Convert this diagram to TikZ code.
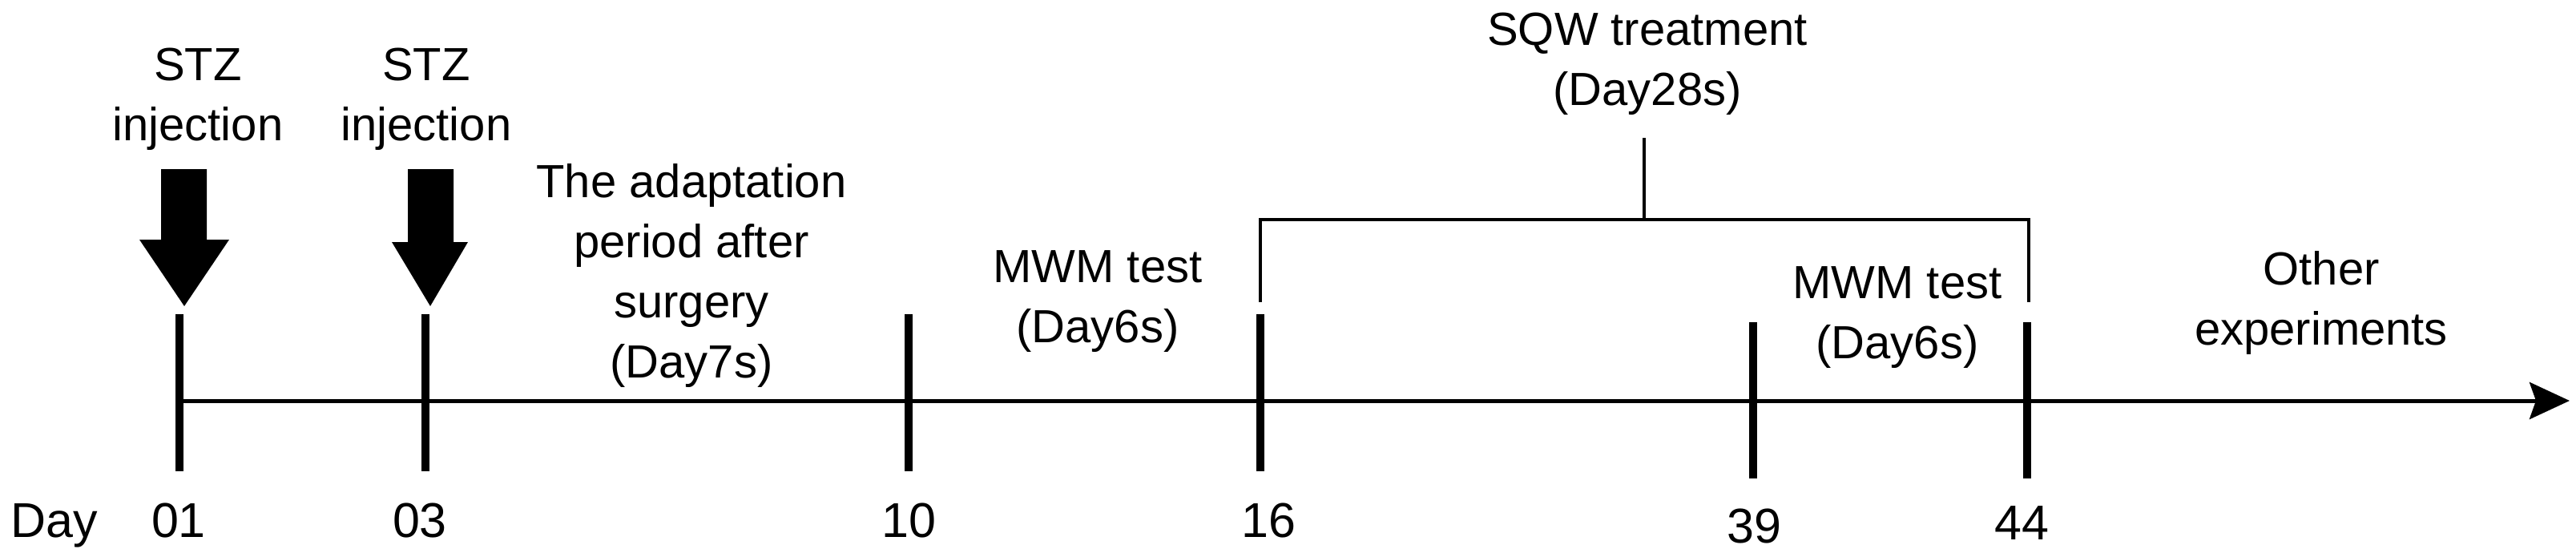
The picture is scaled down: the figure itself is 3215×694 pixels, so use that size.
\documentclass[tikz,border=0pt]{standalone}
\usepackage{fontspec}
\setmainfont{Liberation Sans}
\usetikzlibrary{arrows.meta}
\begin{document}
\begin{tikzpicture}[x=1pt,y=-1pt,
  lbl/.style={align=center,font=\fontsize{58}{75}\selectfont,inner sep=0pt},
  daylbl/.style={anchor=base,font=\fontsize{61}{70}\selectfont,inner sep=0pt},
  tickmark/.style={line width=10pt},
  axisline/.style={line width=5pt,-{Stealth[length=50pt,width=46pt,inset=8pt]}},
  brk/.style={line width=4.5pt},
  inj/.style={fill=black}]
\useasboundingbox (0,0) rectangle (3215,694);

% axis
\coordinate (axstart) at (224,500);
\coordinate (axend) at (3207,500);
\draw[axisline] (axstart) -- (axend);

% ticks
\foreach \n/\x/\t/\b in {t01/224/392/588, t03/531/392/588, t10/1134/392/588, t16/1573/392/588, t39/2188/402/597, t44/2530/402/597}{
  \coordinate (\n top) at (\x,\t);
  \coordinate (\n bot) at (\x,\b);
  \draw[tickmark] (\n top) -- (\n bot);
}

% injection arrows
\fill[inj] (201,211) -- (258,211) -- (258,299) -- (286,299) -- (230,382) -- (174,299) -- (201,299) -- cycle;
\fill[inj] (509,211) -- (566,211) -- (566,302) -- (584,302) -- (537,382) -- (489,302) -- (509,302) -- cycle;

% labels
\node[lbl] (stz1) at (247,124) {STZ\\injection};
\node[lbl] (stz2) at (532,124) {STZ\\injection};
\node[lbl] (adapt) at (863,344) {The adaptation\\period after\\surgery\\(Day7s)};
\node[lbl] (mwm1) at (1370,376) {MWM test\\(Day6s)};
\node[lbl] (sqw) at (2056,80) {SQW treatment\\(Day28s)};
\node[lbl] (mwm2) at (2368,396) {MWM test\\(Day6s)};
\node[lbl] (other) at (2897,378) {Other\\experiments};

% bracket
\coordinate (bstem) at (2052,172);
\coordinate (bmid) at (2052,274);
\coordinate (bl) at (1573,274);
\coordinate (br) at (2532,274);
\coordinate (bld) at (1573,377);
\coordinate (brd) at (2532,377);
\draw[brk] (bstem) -- (bmid);
\draw[brk] (bld) -- (bl) -- (br) -- (brd);

% day labels
\node[daylbl] (day) at (68,670) {Day};
\node[daylbl] (d01) at (223,670) {01};
\node[daylbl] (d03) at (524,670) {03};
\node[daylbl] (d10) at (1134,670) {10};
\node[daylbl] (d16) at (1583,670) {16};
\node[daylbl] (d39) at (2189,677) {39};
\node[daylbl] (d44) at (2523,673) {44};
\end{tikzpicture}
\end{document}
